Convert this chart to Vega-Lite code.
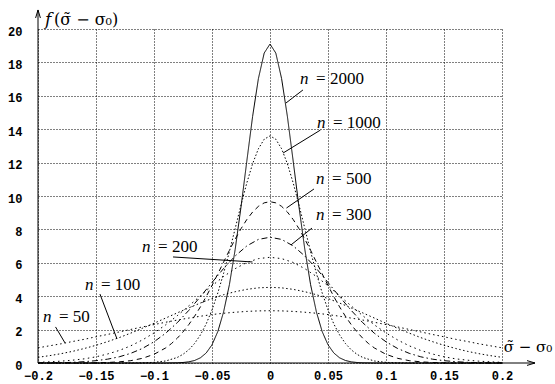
{
  "$schema": "https://vega.github.io/schema/vega-lite/v6.json",
  "width": 464,
  "height": 334,
  "autosize": {"type": "none"},
  "padding": {"left": 38, "top": 29, "right": 53, "bottom": 21},
  "background": "white",
  "config": {"view": {"stroke": null}},
  "datasets": {
    "curves": [
      {"n":"2000","x":-0.2,"y":0},{"n":"2000","x":-0.09,"y":0},{"n":"2000","x":-0.08,"y":0.01},{"n":"2000","x":-0.075,"y":0.03},{"n":"2000","x":-0.07,"y":0.07},{"n":"2000","x":-0.065,"y":0.15},{"n":"2000","x":-0.06,"y":0.31},{"n":"2000","x":-0.055,"y":0.6},{"n":"2000","x":-0.05,"y":1.09},{"n":"2000","x":-0.045,"y":1.88},{"n":"2000","x":-0.04,"y":3.06},{"n":"2000","x":-0.035,"y":4.69},{"n":"2000","x":-0.03,"y":6.81},{"n":"2000","x":-0.025,"y":9.34},{"n":"2000","x":-0.02,"y":12.08},{"n":"2000","x":-0.015,"y":14.76},{"n":"2000","x":-0.01,"y":17.03},{"n":"2000","x":-0.005,"y":18.56},{"n":"2000","x":0,"y":19.1},{"n":"2000","x":0.005,"y":18.56},{"n":"2000","x":0.01,"y":17.03},{"n":"2000","x":0.015,"y":14.76},{"n":"2000","x":0.02,"y":12.08},{"n":"2000","x":0.025,"y":9.34},{"n":"2000","x":0.03,"y":6.81},{"n":"2000","x":0.035,"y":4.69},{"n":"2000","x":0.04,"y":3.06},{"n":"2000","x":0.045,"y":1.88},{"n":"2000","x":0.05,"y":1.09},{"n":"2000","x":0.055,"y":0.6},{"n":"2000","x":0.06,"y":0.31},{"n":"2000","x":0.065,"y":0.15},{"n":"2000","x":0.07,"y":0.07},{"n":"2000","x":0.075,"y":0.03},{"n":"2000","x":0.08,"y":0.01},{"n":"2000","x":0.09,"y":0},{"n":"2000","x":0.2,"y":0},

      {"n":"1000","x":-0.2,"y":0},{"n":"1000","x":-0.12,"y":0},{"n":"1000","x":-0.11,"y":0.01},{"n":"1000","x":-0.1,"y":0.04},{"n":"1000","x":-0.09,"y":0.12},{"n":"1000","x":-0.08,"y":0.33},{"n":"1000","x":-0.075,"y":0.52},{"n":"1000","x":-0.07,"y":0.79},{"n":"1000","x":-0.065,"y":1.17},{"n":"1000","x":-0.06,"y":1.68},{"n":"1000","x":-0.055,"y":2.34},{"n":"1000","x":-0.05,"y":3.18},{"n":"1000","x":-0.045,"y":4.19},{"n":"1000","x":-0.04,"y":5.37},{"n":"1000","x":-0.035,"y":6.67},{"n":"1000","x":-0.03,"y":8.06},{"n":"1000","x":-0.025,"y":9.46},{"n":"1000","x":-0.02,"y":10.78},{"n":"1000","x":-0.015,"y":11.93},{"n":"1000","x":-0.01,"y":12.83},{"n":"1000","x":-0.005,"y":13.4},{"n":"1000","x":0,"y":13.6},{"n":"1000","x":0.005,"y":13.4},{"n":"1000","x":0.01,"y":12.83},{"n":"1000","x":0.015,"y":11.93},{"n":"1000","x":0.02,"y":10.78},{"n":"1000","x":0.025,"y":9.46},{"n":"1000","x":0.03,"y":8.06},{"n":"1000","x":0.035,"y":6.67},{"n":"1000","x":0.04,"y":5.37},{"n":"1000","x":0.045,"y":4.19},{"n":"1000","x":0.05,"y":3.18},{"n":"1000","x":0.055,"y":2.34},{"n":"1000","x":0.06,"y":1.68},{"n":"1000","x":0.065,"y":1.17},{"n":"1000","x":0.07,"y":0.79},{"n":"1000","x":0.075,"y":0.52},{"n":"1000","x":0.08,"y":0.33},{"n":"1000","x":0.09,"y":0.12},{"n":"1000","x":0.1,"y":0.04},{"n":"1000","x":0.11,"y":0.01},{"n":"1000","x":0.12,"y":0},{"n":"1000","x":0.2,"y":0},

      {"n":"500","x":-0.2,"y":0},{"n":"500","x":-0.16,"y":0},{"n":"500","x":-0.15,"y":0.01},{"n":"500","x":-0.14,"y":0.03},{"n":"500","x":-0.13,"y":0.07},{"n":"500","x":-0.12,"y":0.14},{"n":"500","x":-0.11,"y":0.28},{"n":"500","x":-0.1,"y":0.52},{"n":"500","x":-0.09,"y":0.9},{"n":"500","x":-0.085,"y":1.16},{"n":"500","x":-0.08,"y":1.48},{"n":"500","x":-0.075,"y":1.86},{"n":"500","x":-0.07,"y":2.3},{"n":"500","x":-0.065,"y":2.8},{"n":"500","x":-0.06,"y":3.36},{"n":"500","x":-0.055,"y":3.98},{"n":"500","x":-0.05,"y":4.64},{"n":"500","x":-0.045,"y":5.34},{"n":"500","x":-0.04,"y":6.04},{"n":"500","x":-0.035,"y":6.75},{"n":"500","x":-0.03,"y":7.42},{"n":"500","x":-0.025,"y":8.04},{"n":"500","x":-0.02,"y":8.59},{"n":"500","x":-0.015,"y":9.04},{"n":"500","x":-0.01,"y":9.38},{"n":"500","x":-0.005,"y":9.59},{"n":"500","x":0,"y":9.66},{"n":"500","x":0.005,"y":9.59},{"n":"500","x":0.01,"y":9.38},{"n":"500","x":0.015,"y":9.04},{"n":"500","x":0.02,"y":8.59},{"n":"500","x":0.025,"y":8.04},{"n":"500","x":0.03,"y":7.42},{"n":"500","x":0.035,"y":6.75},{"n":"500","x":0.04,"y":6.04},{"n":"500","x":0.045,"y":5.34},{"n":"500","x":0.05,"y":4.64},{"n":"500","x":0.055,"y":3.98},{"n":"500","x":0.06,"y":3.36},{"n":"500","x":0.065,"y":2.8},{"n":"500","x":0.07,"y":2.3},{"n":"500","x":0.075,"y":1.86},{"n":"500","x":0.08,"y":1.48},{"n":"500","x":0.085,"y":1.16},{"n":"500","x":0.09,"y":0.9},{"n":"500","x":0.1,"y":0.52},{"n":"500","x":0.11,"y":0.28},{"n":"500","x":0.12,"y":0.14},{"n":"500","x":0.13,"y":0.07},{"n":"500","x":0.14,"y":0.03},{"n":"500","x":0.15,"y":0.01},{"n":"500","x":0.16,"y":0},{"n":"500","x":0.2,"y":0},

      {"n":"300","x":-0.2,"y":0.01},{"n":"300","x":-0.19,"y":0.01},{"n":"300","x":-0.18,"y":0.02},{"n":"300","x":-0.17,"y":0.04},{"n":"300","x":-0.16,"y":0.08},{"n":"300","x":-0.15,"y":0.14},{"n":"300","x":-0.14,"y":0.23},{"n":"300","x":-0.13,"y":0.37},{"n":"300","x":-0.12,"y":0.58},{"n":"300","x":-0.11,"y":0.87},{"n":"300","x":-0.1,"y":1.27},{"n":"300","x":-0.09,"y":1.78},{"n":"300","x":-0.08,"y":2.41},{"n":"300","x":-0.07,"y":3.15},{"n":"300","x":-0.06,"y":3.97},{"n":"300","x":-0.05,"y":4.82},{"n":"300","x":-0.04,"y":5.66},{"n":"300","x":-0.03,"y":6.41},{"n":"300","x":-0.02,"y":7.01},{"n":"300","x":-0.01,"y":7.4},{"n":"300","x":0,"y":7.53},{"n":"300","x":0.01,"y":7.4},{"n":"300","x":0.02,"y":7.01},{"n":"300","x":0.03,"y":6.41},{"n":"300","x":0.04,"y":5.66},{"n":"300","x":0.05,"y":4.82},{"n":"300","x":0.06,"y":3.97},{"n":"300","x":0.07,"y":3.15},{"n":"300","x":0.08,"y":2.41},{"n":"300","x":0.09,"y":1.78},{"n":"300","x":0.1,"y":1.27},{"n":"300","x":0.11,"y":0.87},{"n":"300","x":0.12,"y":0.58},{"n":"300","x":0.13,"y":0.37},{"n":"300","x":0.14,"y":0.23},{"n":"300","x":0.15,"y":0.14},{"n":"300","x":0.16,"y":0.08},{"n":"300","x":0.17,"y":0.04},{"n":"300","x":0.18,"y":0.02},{"n":"300","x":0.19,"y":0.01},{"n":"300","x":0.2,"y":0.01},

      {"n":"200","x":-0.2,"y":0.04},{"n":"200","x":-0.19,"y":0.07},{"n":"200","x":-0.18,"y":0.11},{"n":"200","x":-0.17,"y":0.17},{"n":"200","x":-0.16,"y":0.25},{"n":"200","x":-0.15,"y":0.37},{"n":"200","x":-0.14,"y":0.54},{"n":"200","x":-0.13,"y":0.75},{"n":"200","x":-0.12,"y":1.03},{"n":"200","x":-0.11,"y":1.38},{"n":"200","x":-0.1,"y":1.8},{"n":"200","x":-0.09,"y":2.28},{"n":"200","x":-0.08,"y":2.83},{"n":"200","x":-0.07,"y":3.42},{"n":"200","x":-0.06,"y":4.02},{"n":"200","x":-0.05,"y":4.62},{"n":"200","x":-0.04,"y":5.18},{"n":"200","x":-0.03,"y":5.65},{"n":"200","x":-0.02,"y":6.02},{"n":"200","x":-0.01,"y":6.25},{"n":"200","x":0,"y":6.33},{"n":"200","x":0.01,"y":6.25},{"n":"200","x":0.02,"y":6.02},{"n":"200","x":0.03,"y":5.65},{"n":"200","x":0.04,"y":5.18},{"n":"200","x":0.05,"y":4.62},{"n":"200","x":0.06,"y":4.02},{"n":"200","x":0.07,"y":3.42},{"n":"200","x":0.08,"y":2.83},{"n":"200","x":0.09,"y":2.28},{"n":"200","x":0.1,"y":1.8},{"n":"200","x":0.11,"y":1.38},{"n":"200","x":0.12,"y":1.03},{"n":"200","x":0.13,"y":0.75},{"n":"200","x":0.14,"y":0.54},{"n":"200","x":0.15,"y":0.37},{"n":"200","x":0.16,"y":0.25},{"n":"200","x":0.17,"y":0.17},{"n":"200","x":0.18,"y":0.11},{"n":"200","x":0.19,"y":0.07},{"n":"200","x":0.2,"y":0.04},

      {"n":"100","x":-0.2,"y":0.34},{"n":"100","x":-0.19,"y":0.44},{"n":"100","x":-0.18,"y":0.56},{"n":"100","x":-0.17,"y":0.7},{"n":"100","x":-0.16,"y":0.87},{"n":"100","x":-0.15,"y":1.06},{"n":"100","x":-0.14,"y":1.28},{"n":"100","x":-0.13,"y":1.52},{"n":"100","x":-0.12,"y":1.79},{"n":"100","x":-0.11,"y":2.08},{"n":"100","x":-0.1,"y":2.38},{"n":"100","x":-0.09,"y":2.69},{"n":"100","x":-0.08,"y":3.0},{"n":"100","x":-0.07,"y":3.3},{"n":"100","x":-0.06,"y":3.59},{"n":"100","x":-0.05,"y":3.86},{"n":"100","x":-0.04,"y":4.09},{"n":"100","x":-0.03,"y":4.27},{"n":"100","x":-0.02,"y":4.41},{"n":"100","x":-0.01,"y":4.5},{"n":"100","x":0,"y":4.53},{"n":"100","x":0.01,"y":4.5},{"n":"100","x":0.02,"y":4.41},{"n":"100","x":0.03,"y":4.27},{"n":"100","x":0.04,"y":4.09},{"n":"100","x":0.05,"y":3.86},{"n":"100","x":0.06,"y":3.59},{"n":"100","x":0.07,"y":3.3},{"n":"100","x":0.08,"y":3.0},{"n":"100","x":0.09,"y":2.69},{"n":"100","x":0.1,"y":2.38},{"n":"100","x":0.11,"y":2.08},{"n":"100","x":0.12,"y":1.79},{"n":"100","x":0.13,"y":1.52},{"n":"100","x":0.14,"y":1.28},{"n":"100","x":0.15,"y":1.06},{"n":"100","x":0.16,"y":0.87},{"n":"100","x":0.17,"y":0.7},{"n":"100","x":0.18,"y":0.56},{"n":"100","x":0.19,"y":0.44},{"n":"100","x":0.2,"y":0.34},

      {"n":"50","x":-0.2,"y":0.91},{"n":"50","x":-0.19,"y":1.03},{"n":"50","x":-0.18,"y":1.15},{"n":"50","x":-0.17,"y":1.29},{"n":"50","x":-0.16,"y":1.42},{"n":"50","x":-0.15,"y":1.57},{"n":"50","x":-0.14,"y":1.71},{"n":"50","x":-0.13,"y":1.86},{"n":"50","x":-0.12,"y":2.01},{"n":"50","x":-0.11,"y":2.16},{"n":"50","x":-0.1,"y":2.3},{"n":"50","x":-0.09,"y":2.44},{"n":"50","x":-0.08,"y":2.57},{"n":"50","x":-0.07,"y":2.69},{"n":"50","x":-0.06,"y":2.8},{"n":"50","x":-0.05,"y":2.9},{"n":"50","x":-0.04,"y":2.98},{"n":"50","x":-0.03,"y":3.04},{"n":"50","x":-0.02,"y":3.09},{"n":"50","x":-0.01,"y":3.12},{"n":"50","x":0,"y":3.13},{"n":"50","x":0.01,"y":3.12},{"n":"50","x":0.02,"y":3.09},{"n":"50","x":0.03,"y":3.04},{"n":"50","x":0.04,"y":2.98},{"n":"50","x":0.05,"y":2.9},{"n":"50","x":0.06,"y":2.8},{"n":"50","x":0.07,"y":2.69},{"n":"50","x":0.08,"y":2.57},{"n":"50","x":0.09,"y":2.44},{"n":"50","x":0.1,"y":2.3},{"n":"50","x":0.11,"y":2.16},{"n":"50","x":0.12,"y":2.01},{"n":"50","x":0.13,"y":1.86},{"n":"50","x":0.14,"y":1.71},{"n":"50","x":0.15,"y":1.57},{"n":"50","x":0.16,"y":1.42},{"n":"50","x":0.17,"y":1.29},{"n":"50","x":0.18,"y":1.15},{"n":"50","x":0.19,"y":1.03},{"n":"50","x":0.2,"y":0.91}
    ],
    "labels": [
      {"n":"2000","x":0.0259,"y":16.71,"t":"= 2000"},
      {"n":"1000","x":0.0405,"y":14.07,"t":"= 1000"},
      {"n":"500","x":0.0397,"y":10.72,"t":"= 500"},
      {"n":"300","x":0.0397,"y":8.56,"t":"= 300"},
      {"n":"200","x":-0.1103,"y":6.65,"t":"= 200"},
      {"n":"100","x":-0.1595,"y":4.37,"t":"= 100"},
      {"n":"50","x":-0.1957,"y":2.46,"t":"= 50"}
    ],
    "leaders": [
      {"n":"2000","x":0.0284,"y":16.35,"x2":0.0138,"y2":15.57},
      {"n":"1000","x":0.0435,"y":13.95,"x2":0.0112,"y2":12.57},
      {"n":"500","x":0.0379,"y":10.42,"x2":0.0142,"y2":9.28},
      {"n":"300","x":0.0362,"y":8.08,"x2":0.0181,"y2":7.07},
      {"n":"200","x":-0.0836,"y":6.35,"x2":-0.0151,"y2":6.05},
      {"n":"100","x":-0.1466,"y":4.13,"x2":-0.1319,"y2":1.44},
      {"n":"50","x":-0.1849,"y":2.16,"x2":-0.1767,"y2":1.2},
      {"n":"axis x","x":-0.2,"y":0,"x2":0.2284,"y2":0},
      {"n":"axis y","x":-0.2,"y":0,"x2":-0.2,"y2":21.14}
    ],
    "arrows": [
      {"dir":"right","x":0.225,"y":0},
      {"dir":"up","x":-0.2,"y":20.9}
    ],
    "titles": [
      {"x":-0.194,"y":20.24,"it":"f","t":"(σ̃ − σ₀)"}
    ],
    "xtitle": [
      {"x":0.2015,"y":0.66,"t":"σ̃ − σ₀"}
    ]
  },
  "encoding": {
    "x": {"field": "x", "type": "quantitative", "title": null,
      "scale": {"domain": [-0.2, 0.2], "nice": false, "zero": false},
      "axis": {"values": [-0.2,-0.15,-0.1,-0.05,0,0.05,0.1,0.15,0.2], "format": ".2~f", "domain": false, "ticks": false,
        "labelFont": "Liberation Mono", "labelFontWeight": "bold", "labelFontSize": 12, "labelColor": "black", "labelPadding": 7,
        "grid": true, "gridColor": "black", "gridDash": [1, 2], "gridOpacity": 1, "gridWidth": 1, "labelFlush": false, "labelOverlap": false}},
    "y": {"field": "y", "type": "quantitative", "title": null,
      "scale": {"domain": [0, 20], "nice": false},
      "axis": {"values": [0,2,4,6,8,10,12,14,16,18,20], "domain": false, "ticks": false,
        "labelFont": "Liberation Mono", "labelFontWeight": "bold", "labelFontSize": 12, "labelColor": "black", "labelPadding": 16, "labelOffset": 2,
        "grid": true, "gridColor": "black", "gridDash": [1, 2], "gridOpacity": 1, "gridWidth": 1, "labelFlush": false, "labelOverlap": false}}
  },
  "layer": [
    {
      "data": {"name": "curves"},
      "mark": {"type": "line", "color": "black", "strokeWidth": 1},
      "encoding": {
        "strokeDash": {"field": "n", "type": "nominal", "legend": null,
          "scale": {"domain": ["2000","1000","500","300","200","100","50"],
            "range": [[1,0],[1.5,2],[5,4],[6,3,1.5,3],[1.5,3.5],[1.5,2.5],[1.5,3]]}}
      }
    },
    {
      "data": {"name": "leaders"},
      "mark": {"type": "rule", "color": "black", "strokeWidth": 1},
      "encoding": {
        "x2": {"field": "x2"},
        "y2": {"field": "y2"}
      }
    },
    {
      "data": {"name": "labels"},
      "mark": {"type": "text", "align": "left", "baseline": "alphabetic", "font": "Liberation Serif", "fontSize": 17, "fontStyle": "italic", "color": "black"},
      "encoding": {
        "text": {"value": "n"}
      }
    },
    {
      "data": {"name": "labels"},
      "mark": {"type": "text", "align": "left", "baseline": "alphabetic", "font": "Liberation Serif", "fontSize": 17, "dx": 16, "color": "black"},
      "encoding": {
        "text": {"field": "t"}
      }
    },
    {
      "data": {"name": "arrows"},
      "mark": {"type": "point", "filled": false, "color": "black", "strokeWidth": 1, "size": 64, "opacity": 1},
      "encoding": {
        "shape": {"field": "dir", "type": "nominal", "legend": null,
          "scale": {"domain": ["right","up"], "range": ["M-1,-0.6L1,0L-1,0.6", "M-0.6,1L0,-1L0.6,1"]}}
      }
    },
    {
      "data": {"name": "titles"},
      "mark": {"type": "text", "align": "left", "baseline": "alphabetic", "font": "DejaVu Serif", "fontSize": 17, "fontStyle": "italic", "color": "black"},
      "encoding": {
        "text": {"field": "it"}
      }
    },
    {
      "data": {"name": "titles"},
      "mark": {"type": "text", "align": "left", "baseline": "alphabetic", "font": "DejaVu Serif", "fontSize": 16, "dx": 9, "color": "black"},
      "encoding": {
        "text": {"field": "t"}
      }
    },
    {
      "data": {"name": "xtitle"},
      "mark": {"type": "text", "align": "left", "baseline": "alphabetic", "font": "DejaVu Serif", "fontSize": 15, "color": "black"},
      "encoding": {
        "text": {"field": "t"}
      }
    }
  ]
}
